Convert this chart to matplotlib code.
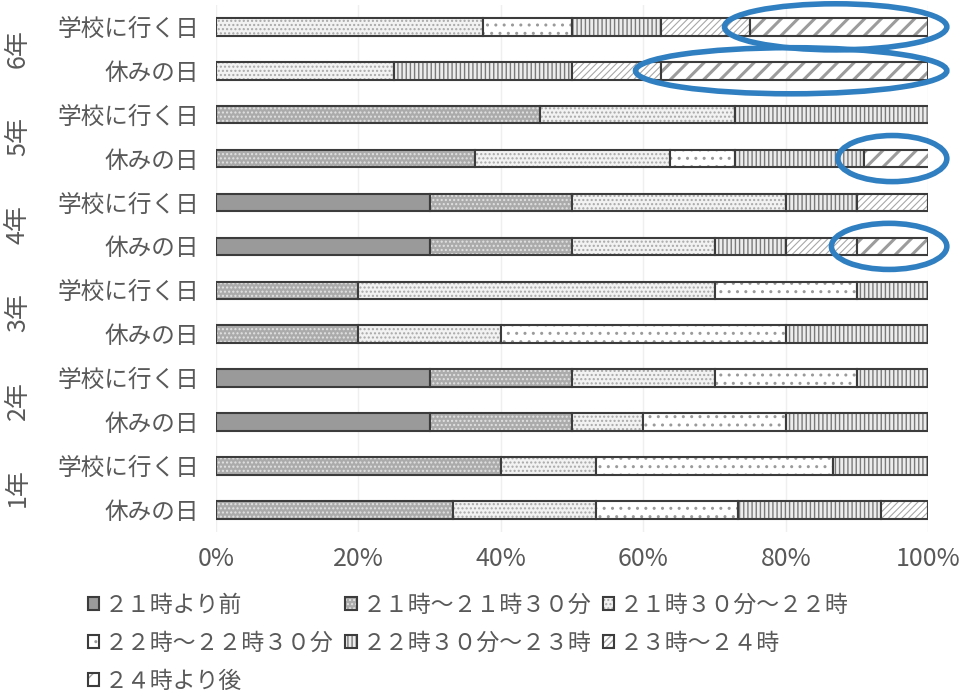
import matplotlib.pyplot as plt
import matplotlib.transforms as mtransforms
import numpy as np
from matplotlib.patches import Ellipse
from matplotlib.legend_handler import HandlerTuple

plt.rcParams['font.family'] = ['Noto Sans CJK JP', 'DejaVu Sans']

# rows top -> bottom: each grade has school day / holiday
grades = ['6年', '5年', '4年', '3年', '2年', '1年']
days = ['学校に行く日', '休みの日']
row_labels = [d for g in grades for d in days]

categories = ['２１時より前', '２１時～２１時３０分', '２１時３０分～２２時',
              '２２時～２２時３０分', '２２時３０分～２３時', '２３時～２４時',
              '２４時より後']

# percentages (same row order as row_labels)
before_21 = [0, 0, 0, 0, 30, 30, 0, 0, 30, 30, 0, 0]
h21_2130 = [0, 0, 45.5, 36.4, 20, 20, 20, 20, 20, 20, 40, 33.3]
h2130_22 = [37.5, 25, 27.3, 27.3, 30, 20, 50, 20, 20, 10, 13.3, 20]
h22_2230 = [12.5, 0, 0, 9.1, 0, 0, 20, 40, 20, 20, 33.3, 20]
h2230_23 = [12.5, 25, 27.3, 18.2, 10, 10, 10, 20, 10, 20, 13.3, 20]
h23_24 = [12.5, 12.5, 0, 0, 10, 10, 0, 0, 0, 0, 0, 6.7]
after_24 = [25, 37.5, 0, 9.1, 0, 10, 0, 0, 0, 0, 0, 0]
series = [before_21, h21_2130, h2130_22, h22_2230, h2230_23, h23_24, after_24]

# rows where the "after 24h" part is circled in blue
circled_rows = [0, 1, 3, 5]

# (face colour, hatch colour, hatch, hatch linewidth)
styles = [('#9a9a9a', '#9a9a9a', None, 1.0),
          ('#ababab', '#e2e2e2', '....', 1.0),
          ('#f2f2f2', '#a8a8a8', '....', 1.0),
          ('white', '#9a9a9a', '..', 1.0),
          ('#ececec', '#7a7a7a', '||||', 1.0),
          ('white', '#a8a8a8', '/////', 0.8),
          ('white', '#9c9c9c', '//', 2.2)]

text_col = '#595959'

fig, ax = plt.subplots(figsize=(9.68, 6.97), dpi=100)
fig.subplots_adjust(left=0.223, right=0.959, top=0.993, bottom=0.237)

y = np.arange(len(row_labels))
left = np.zeros(len(row_labels))
handles = []
for vals, (face, hcol, hatch, hlw) in zip(series, styles):
    vals = np.array(vals, dtype=float)
    with plt.rc_context({'hatch.linewidth': hlw}):
        fill = ax.barh(y, vals, left=left, height=0.4, color=face,
                       edgecolor=hcol, hatch=hatch, linewidth=0)
    box = ax.barh(y, vals, left=left, height=0.4, fill=False,
                  edgecolor='#3c3c3c', linewidth=1.5)
    handles.append((fill[0], box[0]))
    left += vals

# blue ellipses around the late-night parts
for r in circled_rows:
    start = 100 - after_24[r]
    cx = (start + 100) / 2 - 0.5
    e = Ellipse((cx, r), after_24[r] + 6.2, 1.05, fill=False,
                edgecolor='#2f7fc1', linewidth=4, clip_on=False, zorder=5)
    ax.add_patch(e)

ax.set_xlim(0, 100)
ax.set_ylim(len(row_labels) - 0.5, -0.5)
ax.set_xticks(range(0, 101, 20))
ax.set_xticklabels([f'{v}%' for v in range(0, 101, 20)])
ax.set_yticks(y)
ax.set_yticklabels(row_labels)
ax.tick_params(axis='x', length=0, pad=10, labelsize=18, labelcolor=text_col)
ax.tick_params(axis='y', length=0, pad=12, labelsize=17, labelcolor=text_col)
for s in ax.spines.values():
    s.set_visible(False)
ax.xaxis.grid(True, color='#efefef', linewidth=1)
ax.set_axisbelow(True)

# grade labels, rotated, left of the day labels
trans = mtransforms.blended_transform_factory(ax.transAxes, ax.transData)
for i, g in enumerate(grades):
    ax.text(-0.278, 2 * i + 0.5, g, transform=trans, rotation=90,
            ha='center', va='center', fontsize=18, color=text_col)

# legend, filled row by row
order = [0, 3, 6, 1, 4, 2, 5]
ax.legend([handles[i] for i in order], [categories[i] for i in order],
          handler_map={tuple: HandlerTuple(ndivide=1)},
          ncol=3, loc='upper left', bbox_to_anchor=(88 / 968, 1 - 594 / 697),
          bbox_transform=fig.transFigure, frameon=False, fontsize=16.5,
          labelcolor=text_col, handlelength=0.5, handleheight=0.5,
          handletextpad=0.25, columnspacing=0.5, labelspacing=0.65,
          borderpad=0, borderaxespad=0)

fig.savefig('out.png', dpi=100)
